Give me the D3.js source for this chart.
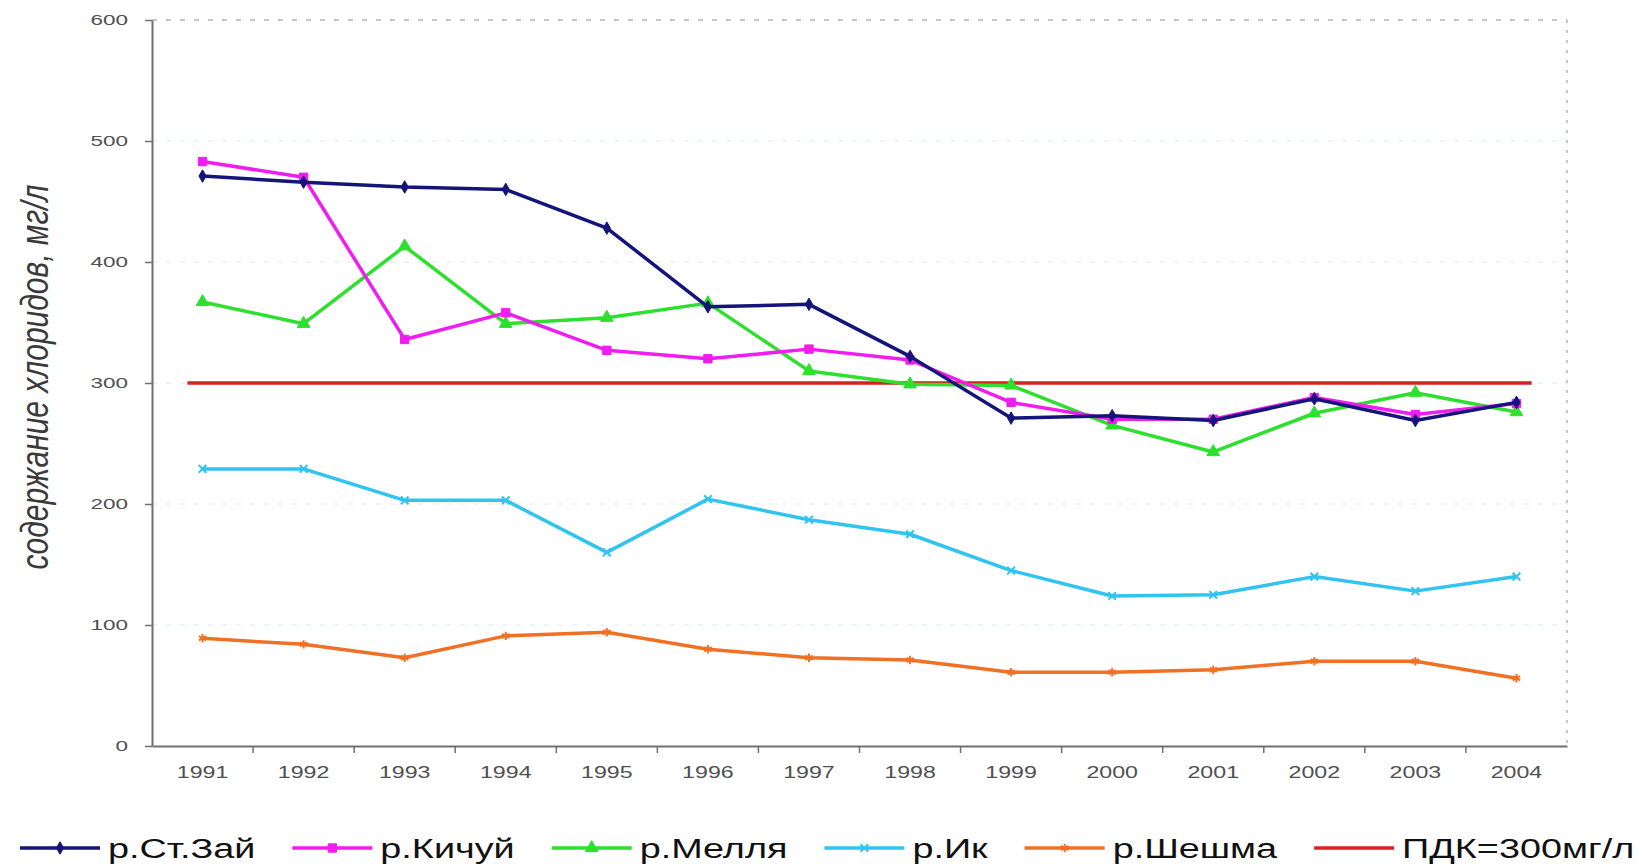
<!DOCTYPE html>
<html>
<head>
<meta charset="utf-8">
<script src="https://cdn.jsdelivr.net/npm/d3@7"></script>
<style>
  body { margin: 0; background: #fff; }
  svg { display: block; font-family: "Liberation Sans", Arial, sans-serif; }
</style>
</head>
<body>
<svg id="chart" width="1642" height="864"></svg>
<script>
// years on the x axis
var years = ["1991","1992","1993","1994","1995","1996","1997","1998","1999","2000","2001","2002","2003","2004"];
var yTicks = [0, 100, 200, 300, 400, 500, 600];

// chloride content per river, mg/l
var stZai   = [471, 466, 462, 460, 428, 363, 365, 322, 271, 273, 269, 287, 269, 284];
var kichui  = [483, 470, 336, 358, 327, 320, 328, 319, 284, 270, 270, 288, 274, 283];
var mellya  = [367, 349, 413, 349, 354, 366, 310, 299, 298, 265, 243, 275, 292, 276];
var ik      = [229, 229, 203, 203, 160, 204, 187, 175, 145, 124, 125, 140, 128, 140];
var sheshma = [89, 84, 73, 91, 94, 80, 73, 71, 61, 61, 63, 70, 70, 56];
var pdk     = 300;

var names = ["р.Ст.Зай", "р.Кичуй", "р.Мелля", "р.Ик", "р.Шешма", "ПДК=300мг/л"];

var series = [
  {name: names[0], values: stZai,   color: "#14147a", symbol: d3.symbolDiamond,  size: 45, filled: true},
  {name: names[1], values: kichui,  color: "#f01cf0", symbol: d3.symbolSquare,   size: 70, filled: true},
  {name: names[2], values: mellya,  color: "#2ee02e", symbol: d3.symbolTriangle, size: 70, filled: true},
  {name: names[3], values: ik,      color: "#30c4f0", symbol: d3.symbolTimes,    size: 40, filled: false},
  {name: names[4], values: sheshma, color: "#f07024", symbol: d3.symbolAsterisk, size: 50, filled: false}
];

var svg = d3.select("#chart");
var margin = {top: 20, right: 75, bottom: 118, left: 152};
var width = +svg.attr("width") - margin.left - margin.right,
    height = +svg.attr("height") - margin.top - margin.bottom;

var x = d3.scaleBand().domain(years).range([0, width]).padding(0);
var y = d3.scaleLinear().domain([0, 600]).range([height, 0]);
var cx = function(i) { return x(years[i]) + x.bandwidth() / 2; };

var g = svg.append("g")
    .attr("transform", "translate(" + margin.left + "," + margin.top + ")");

// faint gridlines
g.append("g").selectAll("line")
    .data(yTicks.filter(function(d) { return d > 0 && d < 600; }))
    .enter().append("line")
    .attr("x1", 0).attr("x2", width)
    .attr("y1", function(d) { return y(d); }).attr("y2", function(d) { return y(d); })
    .attr("stroke", "#e6f3f3").attr("stroke-width", 1.5).attr("stroke-dasharray", "5,9");

// dotted plot border, top and right
g.append("line")
    .attr("x1", 0).attr("x2", width).attr("y1", 0).attr("y2", 0)
    .attr("stroke", "#b4b4b4").attr("stroke-width", 1.5).attr("stroke-dasharray", "5,9");
g.append("line")
    .attr("x1", width).attr("x2", width).attr("y1", 0).attr("y2", height)
    .attr("stroke", "#b4b4b4").attr("stroke-width", 1.5).attr("stroke-dasharray", "3,7");

// y axis
var yAxis = g.append("g")
    .call(d3.axisLeft(y).tickValues(yTicks).tickSize(7).tickSizeOuter(0));
yAxis.select(".domain").attr("stroke", "#707070").attr("stroke-width", 2);
yAxis.selectAll(".tick line").attr("stroke", "#707070").attr("stroke-width", 1.5);
yAxis.selectAll("text")
    .attr("x", 0)
    .attr("transform", "translate(-24,0) scale(1.5,1)")
    .attr("fill", "#505050")
    .style("font-size", "15px");

// x axis, labels centred in bands, tick marks between years
var xAxis = g.append("g")
    .attr("transform", "translate(0," + height + ")")
    .call(d3.axisBottom(x).tickSize(0).tickPadding(21).tickSizeOuter(0));
xAxis.select(".domain").attr("stroke", "#707070").attr("stroke-width", 2);
xAxis.selectAll("text")
    .attr("transform", "scale(1.45,1)")
    .attr("fill", "#505050")
    .style("font-size", "16px");
xAxis.append("g").selectAll("line")
    .data(years.slice(1))
    .enter().append("line")
    .attr("x1", function(d) { return x(d); }).attr("x2", function(d) { return x(d); })
    .attr("y1", 0).attr("y2", 7)
    .attr("stroke", "#707070").attr("stroke-width", 1.5);

// threshold line
g.append("line")
    .attr("x1", cx(0) - x.bandwidth() * 0.15)
    .attr("x2", cx(years.length - 1) + x.bandwidth() * 0.15)
    .attr("y1", y(pdk)).attr("y2", y(pdk))
    .attr("stroke", "#d22222").attr("stroke-width", 3.5);

var line = d3.line()
    .x(function(d, i) { return cx(i); })
    .y(function(d) { return y(d); });

series.slice().reverse().forEach(function(s) {
  g.append("path")
      .datum(s.values)
      .attr("fill", "none")
      .attr("stroke", s.color)
      .attr("stroke-width", 3.5)
      .attr("stroke-linejoin", "round")
      .attr("d", line);

  g.append("g").selectAll("path")
      .data(s.values)
      .enter().append("path")
      .attr("transform", function(d, i) { return "translate(" + cx(i) + "," + y(d) + ")"; })
      .attr("d", d3.symbol().type(s.symbol).size(s.size))
      .attr("fill", s.filled ? s.color : "none")
      .attr("stroke", s.color)
      .attr("stroke-width", s.filled ? 1 : 2);
});

// y axis title
svg.append("text")
    .attr("transform", "translate(48,377) scale(1.3,1) rotate(-90)")
    .attr("text-anchor", "middle")
    .attr("fill", "#3a3a3a")
    .style("font-size", "30px")
    .style("font-style", "italic")
    .text("содержание хлоридов, мг/л");

// legend
var legendItems = series.map(function(s) { return s; })
    .concat([{name: names[5], color: "#e02020", symbol: null}]);
var lx = 20, ly = 848, sx = 1.35;
legendItems.forEach(function(s) {
  var item = svg.append("g").attr("transform", "translate(" + lx + "," + ly + ")");
  item.append("line")
      .attr("x1", 0).attr("x2", 80).attr("y1", 0).attr("y2", 0)
      .attr("stroke", s.color).attr("stroke-width", 3.5);
  if (s.symbol) {
    item.append("path")
        .attr("transform", "translate(40,0)")
        .attr("d", d3.symbol().type(s.symbol).size(s.size))
        .attr("fill", s.filled ? s.color : "none")
        .attr("stroke", s.color)
        .attr("stroke-width", s.filled ? 1 : 2);
  }
  var t = item.append("text")
      .attr("transform", "translate(88,10) scale(" + sx + ",1)")
      .attr("fill", "#111")
      .style("font-size", "28px")
      .text(s.name);
  lx += 88 + t.node().getComputedTextLength() * sx + 37;
});
</script>
</body>
</html>
